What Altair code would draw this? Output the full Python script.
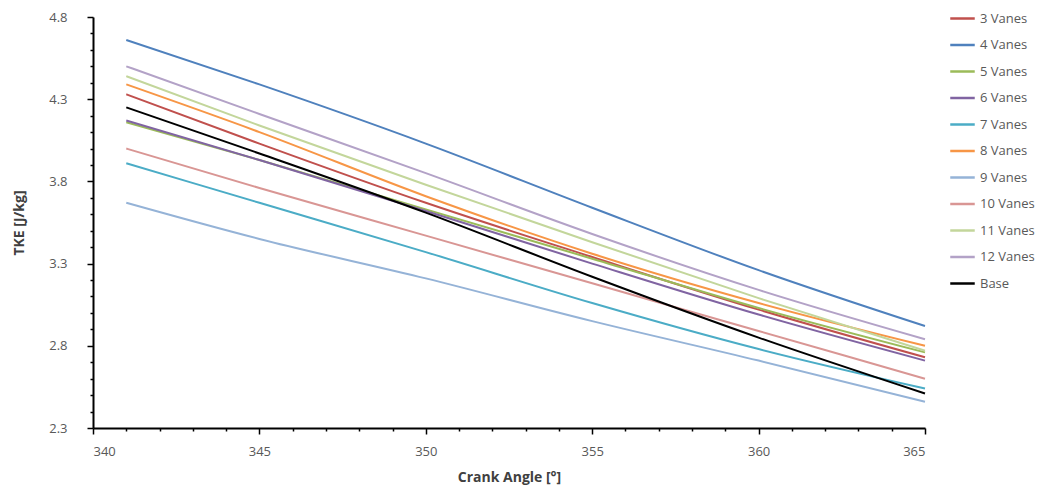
import altair as alt
import pandas as pd

angles = [341, 345, 350, 355, 360, 365]
series_names = ["3 Vanes", "4 Vanes", "5 Vanes", "6 Vanes", "7 Vanes", "8 Vanes",
                "9 Vanes", "10 Vanes", "11 Vanes", "12 Vanes", "Base"]
colors = ["#C0504D", "#4F81BD", "#9BBB59", "#8064A2", "#4BACC6", "#F79646",
          "#95B3D7", "#D99694", "#C3D69B", "#B3A2C7", "#000000"]

v3 = [4.33, 4.03, 3.67, 3.34, 3.02, 2.73]
v4 = [4.66, 4.39, 4.03, 3.64, 3.26, 2.92]
v5 = [4.16, 3.93, 3.63, 3.33, 3.03, 2.76]
v6 = [4.17, 3.93, 3.62, 3.30, 2.99, 2.71]
v7 = [3.91, 3.67, 3.37, 3.06, 2.78, 2.54]
v8 = [4.39, 4.10, 3.71, 3.36, 3.06, 2.80]
v9 = [3.67, 3.45, 3.21, 2.95, 2.71, 2.46]
v10 = [4.00, 3.76, 3.47, 3.18, 2.89, 2.60]
v11 = [4.44, 4.14, 3.78, 3.43, 3.09, 2.77]
v12 = [4.50, 4.21, 3.85, 3.48, 3.14, 2.84]
vbase = [4.25, 3.97, 3.61, 3.22, 2.85, 2.51]

x_ticks = list(range(340, 366))
y_ticks = [round(2.3 + 0.1 * i, 1) for i in range(26)]

rows = []
for name, vals in zip(series_names, [v3, v4, v5, v6, v7, v8, v9, v10, v11, v12, vbase]):
    for a, v in zip(angles, vals):
        rows.append({"angle": a, "tke": v, "series": name})
df = pd.DataFrame(rows)

FONT = "Open Sans"
Y_MAJOR = "abs((datum.value - 2.3) / 0.5 - round((datum.value - 2.3) / 0.5)) < 0.01"

chart = alt.Chart(df).mark_line(strokeWidth=2, interpolate="monotone").encode(
    x=alt.X("angle:Q",
            scale=alt.Scale(domain=[340, 365], nice=False),
            axis=alt.Axis(values=x_ticks, title="Crank Angle [°]",
                          labelExpr="datum.value % 5 === 0 ? datum.label : ''",
                          tickSize={"condition": {"test": "datum.value % 5 === 0", "value": 6}, "value": 3},
                          labelPadding=11, titlePadding=12, grid=False)),
    y=alt.Y("tke:Q",
            scale=alt.Scale(domain=[2.3, 4.8], nice=False, zero=False),
            axis=alt.Axis(values=y_ticks, title="TKE [J/kg]", format=".1f",
                          labelExpr=Y_MAJOR + " ? datum.label : ''",
                          tickSize={"condition": {"test": Y_MAJOR, "value": 6}, "value": 3},
                          labelPadding=20, titlePadding=22, grid=False)),
    color=alt.Color("series:N",
                    scale=alt.Scale(domain=series_names, range=colors),
                    sort=series_names,
                    legend=alt.Legend(title=None, orient="none", legendX=856, legendY=-12,
                                      symbolType="stroke", symbolSize=600, symbolStrokeWidth=2.5,
                                      labelFontSize=13, labelColor="#595959", labelFont=FONT,
                                      labelOffset=4, rowPadding=5.5)),
).properties(
    width=832, height=411,
    autosize=alt.AutoSizeParams(type="none"),
    padding={"left": 85, "top": 9, "right": 115, "bottom": 62}
).configure_axis(
    domainColor="#000000", domainWidth=2, tickColor="#000000", tickWidth=1.5,
    labelFont=FONT, labelFontSize=13, labelColor="#595959",
    titleFont=FONT, titleFontSize=14, titleColor="#404040", titleFontWeight="bold"
).configure_view(stroke=None)

chart.save("out.html", embed_options={"renderer": "svg", "actions": False})
